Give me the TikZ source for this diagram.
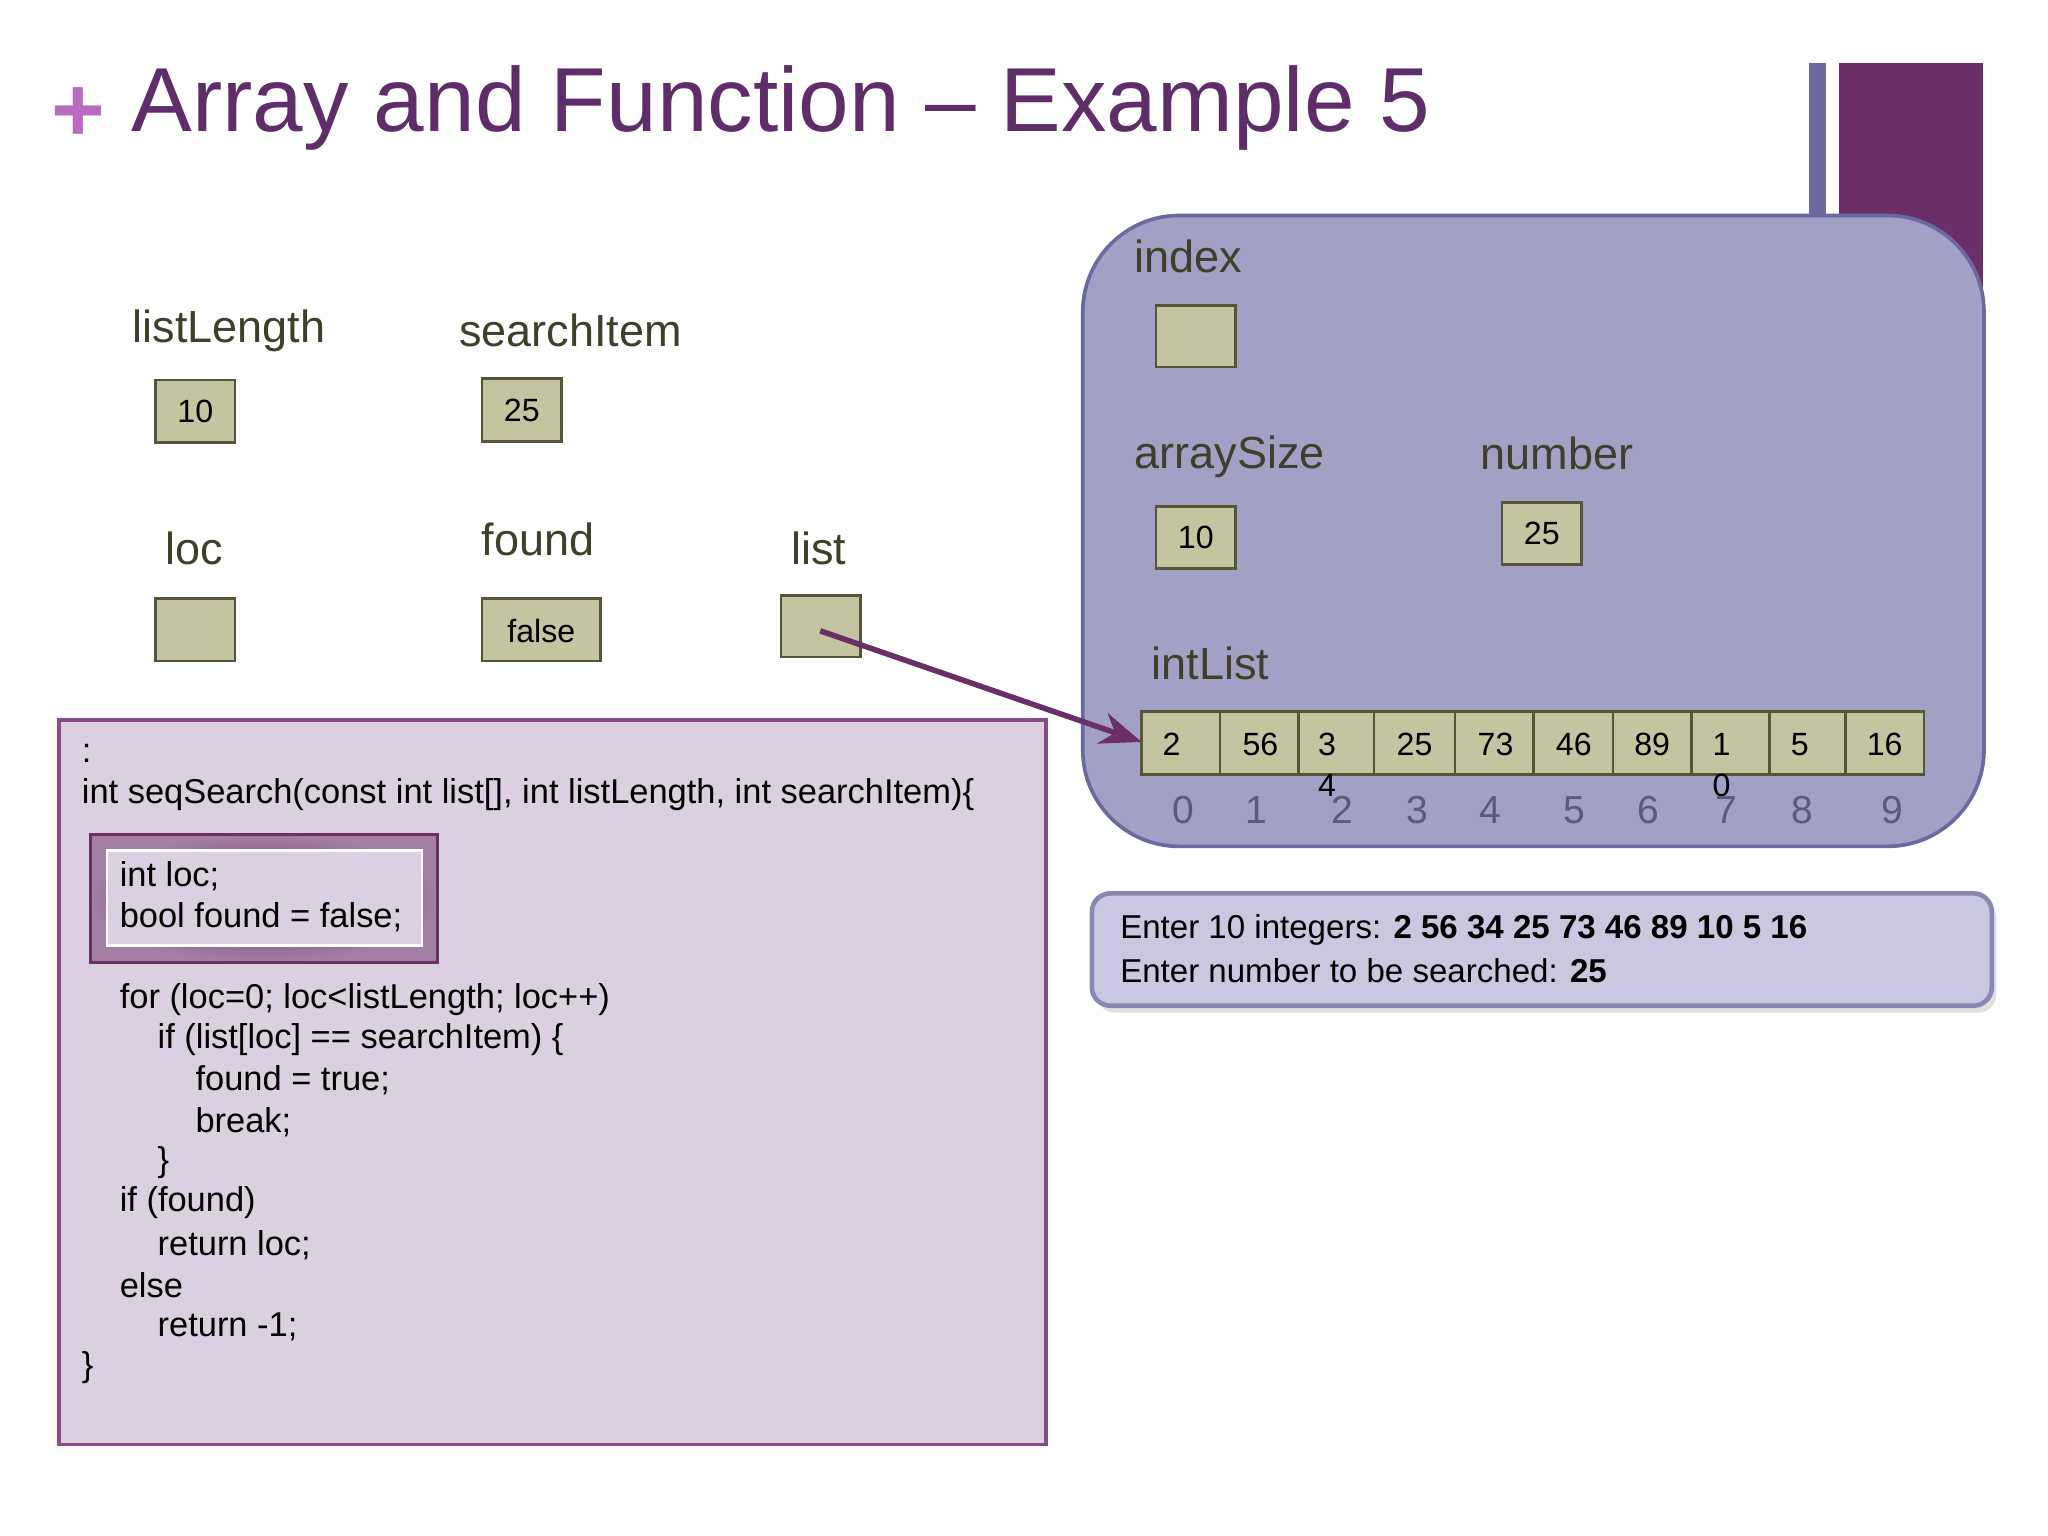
\documentclass[tikz,border=0pt]{standalone}
\usepackage{fontspec}
\setmainfont{Liberation Sans}
\usetikzlibrary{arrows.meta,shadows}
\definecolor{ttl}{HTML}{5F2D6A}
\definecolor{plus}{HTML}{B86BC0}
\definecolor{slate}{HTML}{6B6AA0}
\definecolor{plum}{HTML}{6A2F66}
\definecolor{panel}{HTML}{A3A0C5}
\definecolor{cell}{HTML}{C4C4A0}
\definecolor{cellb}{HTML}{55553A}
\definecolor{lbl}{HTML}{3F3F2A}
\definecolor{idx}{HTML}{5A5A7A}
\definecolor{code}{HTML}{DCCFE2}
\definecolor{codeb}{HTML}{8A4A8A}
\definecolor{cons}{HTML}{C9C8E0}
\tikzset{x=0.01cm,y=-0.01cm,
 var/.style={font=\fontsize{9.8}{11}\selectfont,text=lbl,anchor=west,inner sep=0},
 cellbox/.style={draw=cellb,fill=cell,line width=0.6pt},
 val/.style={font=\fontsize{7}{8}\selectfont,inner sep=0},
 ix/.style={font=\fontsize{8.5}{9}\selectfont,text=idx,inner sep=0},
 ct/.style={font=\fontsize{7.5}{8.9}\selectfont,anchor=west,inner sep=0},
 cons/.style={font=\fontsize{7.2}{8.9}\selectfont,anchor=west,inner sep=0}}
\begin{document}
\begin{tikzpicture}
\useasboundingbox (0,0) rectangle (1568,1176);
\fill[white] (0,0) rectangle (1568,1176);
% title
\node[text=plus,font=\fontsize{20}{20}\selectfont\bfseries,inner sep=0] (plus) at (60,88) {+};
\node[text=ttl,font=\fontsize{19.8}{24}\selectfont,anchor=west,inner sep=0] (title) at (100,83) {Array and Function – Example 5};
\fill[slate] (1385,48) rectangle (1398,165);
\fill[plum] (1408,48) rectangle (1518,230);
% panel
\draw[fill=panel,draw=slate,line width=0.8pt,rounded corners=21pt] (829,165) rectangle (1519,648);
\node[var] (lindex) at (868,196) {index};
\draw[cellbox] (885,234) rectangle (946,281);
\node[var] (lasz) at (868,350) {arraySize};
\draw[cellbox] (885,388) rectangle (946,435);
\node[val] at (915.5,411.5) {10};
\node[var] (lnum) at (1133,347) {number};
\draw[cellbox] (1150,385) rectangle (1211,432);
\node[val] at (1180.5,408.5) {25};
\node[var] (lint) at (881,508) {intList};
\foreach \a/\b [count=\i from 0] in {874/934,934/994,994/1052,1052/1114,1114/1174,1174/1235,1235/1295,1295/1355,1355/1413,1413/1473}
  \draw[cellbox] (\a,545) rectangle (\b,593);
\coordinate (arr) at (874,568);
\foreach \xx/\t in {897/2,965/56,1083/25,1145/73,1205/46,1265/89,1378/5,1443/16}
  \node[val] at (\xx,570) {\t};
\node[val] at (1016,570) {3};
\node[val] at (1016,601) {4};
\node[val] at (1318,570) {1};
\node[val] at (1318,601) {0};
\foreach \xx [count=\i from 0] in {906,962,1028,1085,1141,1205,1262,1322,1380,1449}
  \node[ix] at (\xx,620) {\i};
% left variables
\node[var] (llen) at (101,253) {listLength};
\draw[cellbox] (119,291) rectangle (180,339); \node[val] at (149.5,315) {10};
\node[var] (lsi) at (351,253) {searchItem};
\draw[cellbox] (369,290) rectangle (430,338); \node[val] at (399.5,314) {25};
\node[var] (lloc) at (126,420) {loc};
\draw[cellbox] (119,458) rectangle (180,506);
\node[var] (lfound) at (368,413) {found};
\draw[cellbox] (369,458) rectangle (460,506); \node[val] at (414.5,483) {false};
\node[var] (llist) at (605,420) {list};
\draw[cellbox] (598,456) rectangle (659,503);
\coordinate (lst) at (628,483);
\draw[plum,line width=1.2pt,-{Stealth[length=9pt,width=7pt]}] (lst) -- (arr);
% code box
\draw[fill=code,draw=codeb,line width=0.8pt] (45,551) rectangle (801,1106);
\shade[outer color=plum!50!code,inner color=plum] (69,639) rectangle (335,737);
\draw[plum,line width=0.6pt] (69,639) rectangle (335,737);
\draw[fill=code,draw=white,line width=0.6pt] (82,651) rectangle (323,724);
\node[ct] at (62,577) {:};
\node[ct] at (62,608) {int seqSearch(const int list[], int listLength, int searchItem)\{};
\node[ct] at (91,671) {int loc;};
\node[ct] at (91,702) {bool found = false;};
\node[ct] at (91,765) {for (loc=0; loc<listLength; loc++)};
\node[ct] at (120,796) {if (list[loc] == searchItem) \{};
\node[ct] at (149,827) {found = true;};
\node[ct] at (149,859) {break;};
\node[ct] at (120,890) {\}};
\node[ct] at (91,921) {if (found)};
\node[ct] at (120,953) {return loc;};
\node[ct] at (91,984) {else};
\node[ct] at (120,1016) {return -1;};
\node[ct] at (62,1047) {\}};
% console
\draw[fill=cons,draw=slate!80,line width=1pt,rounded corners=4pt,drop shadow={opacity=0.25,shadow xshift=1pt,shadow yshift=-1.5pt}] (836,684) rectangle (1525,770);
\node[cons] at (857,712) {Enter 10 integers: \textbf{2 56 34 25 73 46 89 10 5 16}};
\node[cons] at (857,743) {Enter number to be searched: \textbf{25}};
\end{tikzpicture}
\end{document}
